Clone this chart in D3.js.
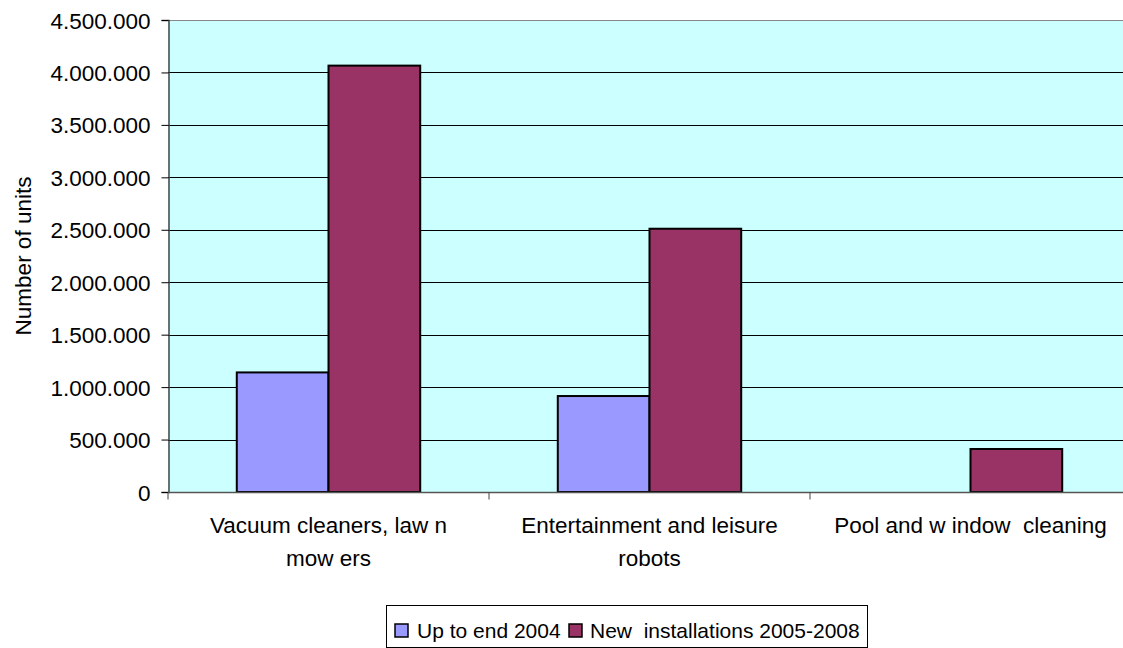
<!DOCTYPE html>
<html>
<head>
<meta charset="utf-8">
<script src="https://cdn.jsdelivr.net/npm/d3@7"></script>
<style>
  html, body { margin: 0; padding: 0; background: #fff; }
  svg { display: block; font-family: "Liberation Sans", Arial, sans-serif; }
  svg text { white-space: pre; }
</style>
</head>
<body>
<svg id="chart" width="1123" height="648"></svg>
<script>
// Service robots for personal and domestic use, stock by category
const categories = [
  ["Vacuum cleaners, law n", "mow ers"],
  ["Entertainment and leisure", "robots"],
  ["Pool and w indow  cleaning"]
];
const seriesNames = ["Up to end 2004", "New  installations 2005-2008"];
const upTo2004 = [1140000, 915000, 0];
const new2005to2008 = [4065000, 2510000, 410000];
const yTicks = [0, 500000, 1000000, 1500000, 2000000, 2500000, 3000000, 3500000, 4000000, 4500000];
const colors = ["#9999FF", "#993366"];

const svg = d3.select("#chart");
const margin = { left: 168, top: 20, right: -8, bottom: 156 };
const W = 1123, H = 648;
const x0 = margin.left, x1 = W - margin.right;
const yTop = margin.top, yBot = H - margin.bottom;

const catIdx = d3.range(categories.length);
const x = d3.scaleBand().domain(catIdx).range([x0, x1]).paddingInner(0).paddingOuter(0);
// two bars per group, gap of 150% of a bar width
const barW = x.bandwidth() / 3.5;
const xs = d3.scaleBand().domain([0, 1]).range([barW * 0.75, barW * 2.75]);
const y = d3.scaleLinear().domain([0, 4500000]).range([yBot, yTop]);

const fmt = v => d3.format(",")(v).replace(/,/g, ".");
const axisFont = 22.5;
const legendFont = 21;

// plot background
svg.append("rect")
  .attr("x", x0).attr("y", yTop)
  .attr("width", x1 - x0).attr("height", yBot - yTop)
  .attr("fill", "#CCFFFF");

// horizontal gridlines
svg.append("g").selectAll("line")
  .data(yTicks.filter(t => t > 0))
  .join("line")
  .attr("x1", x0).attr("x2", x1)
  .attr("y1", d => Math.round(y(d)) + 0.5).attr("y2", d => Math.round(y(d)) + 0.5)
  .attr("stroke", d => d === 4500000 ? "#888" : "#000")
  .attr("stroke-width", 1);

// bars
const rows = catIdx.map(i => [upTo2004[i], new2005to2008[i]]);
const groups = svg.append("g").selectAll("g")
  .data(rows)
  .join("g")
  .attr("transform", (d, i) => `translate(${x(i)},0)`);
groups.selectAll("rect")
  .data(d => d.map((v, s) => ({ v, s })).filter(e => e.v > 0))
  .join("rect")
  .attr("x", e => xs(e.s))
  .attr("width", xs.bandwidth())
  .attr("y", e => y(e.v))
  .attr("height", e => y(0) - y(e.v))
  .attr("fill", e => colors[e.s])
  .attr("stroke", "#000")
  .attr("stroke-width", 2);

// y axis
const yAxis = d3.axisLeft(y).tickValues(yTicks).tickFormat(fmt).tickSizeOuter(0).tickSize(7).tickPadding(11);
const gy = svg.append("g").attr("transform", `translate(${x0 + 0.5},0)`).call(yAxis);
gy.select(".domain").attr("stroke", "#444").attr("stroke-width", 1.5);
gy.selectAll(".tick line").attr("stroke", "#000");
gy.selectAll(".tick text")
  .attr("font-size", axisFont).attr("font-family", "Liberation Sans, Arial, sans-serif")
  .attr("fill", "#000").attr("dy", "0.36em");

// x axis line and category ticks
const gx = svg.append("g").attr("transform", `translate(0,${yBot + 0.5})`);
gx.append("line").attr("x1", x0).attr("x2", x1).attr("stroke", "#555").attr("stroke-width", 1.5);
gx.selectAll("line.tk")
  .data(d3.range(categories.length + 1))
  .join("line").attr("class", "tk")
  .attr("x1", i => i < categories.length ? x(i) : x1)
  .attr("x2", i => i < categories.length ? x(i) : x1)
  .attr("y1", 0).attr("y2", 7)
  .attr("stroke", "#444");

// category labels
gx.selectAll("text.cat")
  .data(categories)
  .join("text").attr("class", "cat")
  .attr("text-anchor", "middle")
  .attr("font-size", axisFont)
  .attr("fill", "#000")
  .attr("transform", (d, i) => `translate(${x(i) + x.bandwidth() / 2},0)`)
  .selectAll("tspan")
  .data(d => d)
  .join("tspan")
  .attr("x", 0)
  .attr("y", (d, j) => 40 + j * 33)
  .text(d => d);

// y axis title
svg.append("text")
  .attr("transform", `translate(31,${(yTop + yBot) / 2}) rotate(-90)`)
  .attr("text-anchor", "middle")
  .attr("font-size", axisFont)
  .attr("fill", "#000")
  .text("Number of units");

// legend
const lg = svg.append("g");
lg.append("rect")
  .attr("x", 386.5).attr("y", 605.5)
  .attr("width", 481).attr("height", 42)
  .attr("fill", "#fff").attr("stroke", "#000").attr("stroke-width", 1);
const items = [{ name: seriesNames[0], sx: 395, tx: 417 }, { name: seriesNames[1], sx: 569, tx: 590 }];
items.forEach((it, i) => {
  lg.append("rect")
    .attr("x", it.sx).attr("y", 624)
    .attr("width", 13).attr("height", 13)
    .attr("fill", colors[i]).attr("stroke", "#000").attr("stroke-width", 1.5);
  lg.append("text")
    .attr("x", it.tx).attr("y", 638)
    .attr("font-size", legendFont)
    .attr("fill", "#000")
    .text(it.name);
});
</script>
</body>
</html>
